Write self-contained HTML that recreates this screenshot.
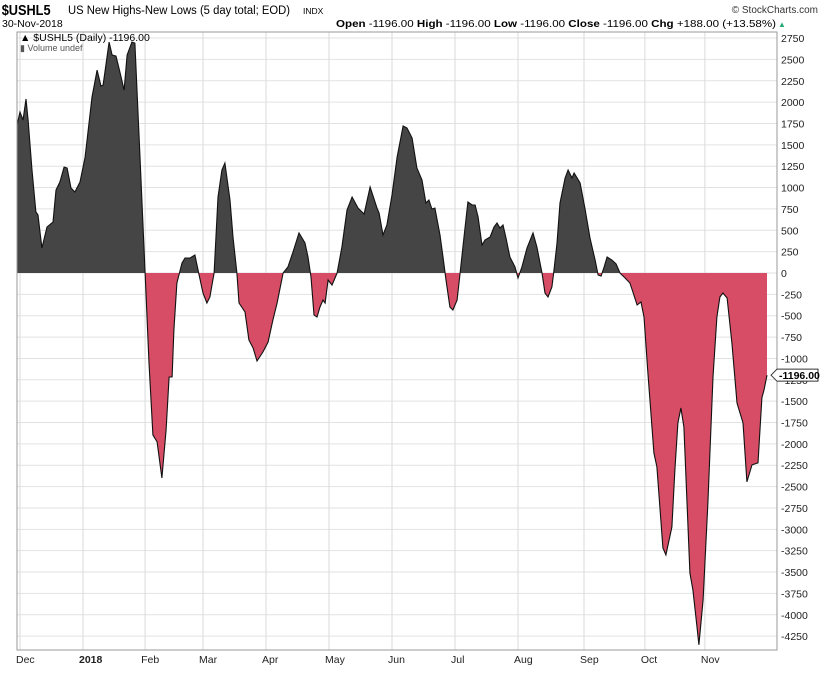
<!DOCTYPE html>
<html><head><meta charset="utf-8"><style>
body{margin:0;background:#fff;width:820px;height:668px;overflow:hidden;font-family:"Liberation Sans",sans-serif}
svg text{font-family:"Liberation Sans",sans-serif}
</style></head><body>
<svg id="chart" width="820" height="668" xmlns="http://www.w3.org/2000/svg">
<g>
<text x="2" y="15" font-size="15" font-weight="bold" transform="scale(0.85,1)">$USHL5</text>
<text x="68" y="14" font-size="11.5" textLength="222" lengthAdjust="spacingAndGlyphs">US New Highs-New Lows (5 day total; EOD)</text>
<text x="303" y="14" font-size="8.5">INDX</text>
<text x="818" y="13" font-size="10" text-anchor="end" fill="#333">© StockCharts.com</text>
<text x="2" y="27" font-size="10.5">30-Nov-2018</text>
<text x="776" y="27" font-size="10.5" text-anchor="end" textLength="440" lengthAdjust="spacingAndGlyphs"><tspan font-weight="bold">Open</tspan> -1196.00 <tspan font-weight="bold">High</tspan> -1196.00 <tspan font-weight="bold">Low</tspan> -1196.00 <tspan font-weight="bold">Close</tspan> -1196.00 <tspan font-weight="bold">Chg</tspan> +188.00 (+13.58%)</text>
<text x="778" y="27" font-size="8" fill="#2a7">▲</text>
</g>
<g id="grid"></g>
<g id="series"></g>
<rect x="17" y="32" width="760" height="618" fill="none" stroke="#999" stroke-width="1"/>
<g id="axes"></g>
<text x="20" y="41" font-size="10.5">▲ $USHL5 (Daily) -1196.00</text>
<text x="20" y="51" font-size="9" fill="#555">▮ Volume undef</text>
</svg>
<script>
const days=[0,1,2,3,3.7,5,6.3,7,8.3,10,12,13,14.3,15.7,16.7,18,19.3,21,22.7,25,26.7,28,28.7,30.7,31.7,33,34.3,35.7,36.7,38.3,39.3,41,42.7,44,45.3,46.7,48.3,49.7,50.7,51.7,52.3,53.3,55,56,57.7,59.3,60.7,62,63.3,64.3,65.7,67,68.3,69.3,71,72,73.3,74,76,77.3,78.7,80,82,83.7,85.3,86.7,88.7,90.3,92,94,96,97,98,99,100,101,102,102.7,103.7,105,106,106.7,108.3,110,111.7,113.7,115.7,117.7,120,120.7,122,123.3,125,126.7,128.7,130,131.7,133.3,135,136.3,137.3,138.3,139.3,141,142,143,144.3,145.3,146.7,147.7,149,150.3,151.7,152.7,153.7,155,156,157.7,159,160,161,162,163,164.3,166,167,168.3,170,172,173.3,175,176,177,178.3,179,180,181,182.7,183.7,185,185.7,187.7,189.3,191,192.7,193.7,194.7,195.7,196.7,198.3,199.7,201,202.7,204.3,205.3,206.7,208,209,210.3,212.3,213.3,215.3,216.3,218.3,219.3,220.3,221.3,222.3,224.3,225.3,226.7,227.3,228.7,230.3,232,233.3,234.3,235.3,236.7,238.3,240,242,243.3,245,247,248.3,249,250];
const values=[1732,1884,1790,2036,1790,1205,714,679,293,538,597,971,1065,1240,1229,995,948,1065,1357,2059,2375,2188,2200,2703,2551,2539,2352,2141,2551,2703,2691,1357,0,-1053,-1895,-1977,-2399,-1837,-1217,-1217,-667,-117,117,175,175,211,-23,-234,-351,-281,0,889,1205,1287,854,421,0,-351,-456,-784,-878,-1030,-924,-807,-550,-351,0,70,246,468,351,187,-47,-491,-515,-398,-316,-351,-82,-140,-59,0,304,737,889,760,690,1006,760,702,445,562,913,1357,1720,1697,1580,1229,1088,819,854,749,760,445,187,-82,-398,-433,-316,0,421,831,796,796,655,328,386,421,538,585,527,562,410,187,70,-59,70,293,468,304,0,-234,-281,-164,35,351,819,1112,1205,1112,1170,1053,760,410,152,-23,-35,70,187,152,105,0,-59,-117,-222,-374,-339,-515,-1170,-2106,-2270,-3218,-3299,-2972,-2305,-1755,-1580,-1802,-3510,-3709,-4154,-4352,-3826,-2691,-1217,-515,-281,-234,-293,-819,-1521,-1755,-2445,-2246,-2223,-1462,-1369,-1196];
const monthLabels=["Dec","2018","Feb","Mar","Apr","May","Jun","Jul","Aug","Sep","Oct","Nov"];
const monthDays=[1,22,42.7,62,83,104,125,146,167,189,209.3,229.3];
const yTicks=[2750,2500,2250,2000,1750,1500,1250,1000,750,500,250,0,-250,-500,-750,-1000,-1250,-1500,-1750,-2000,-2250,-2500,-2750,-3000,-3250,-3500,-3750,-4000,-4250];
const lastValue=-1196;

const NS="http://www.w3.org/2000/svg";
const X=d=>17+d*3;
const Y=v=>273-v/250*21.36;
function mk(tag,attrs,parent){const e=document.createElementNS(NS,tag);for(const k in attrs)e.setAttribute(k,attrs[k]);parent.appendChild(e);return e;}
const grid=document.getElementById('grid'),axes=document.getElementById('axes'),ser=document.getElementById('series');
yTicks.forEach(t=>{
  const l=mk('line',{x1:17,x2:777,y1:Y(t),y2:Y(t),stroke:'#e2e2e2','stroke-width':1},grid);
  
  
  const tx=mk('text',{x:781,y:Y(t)+4,'font-size':10.5,fill:'#222'},axes);
  tx.textContent=t;
  
  
});
monthDays.forEach((d,i)=>{
  const l=mk('line',{x1:X(d),x2:X(d),y1:32,y2:650,stroke:'#dadada','stroke-width':1},grid);
  
  
  const tx=mk('text',{x:X(d)-4,y:663,'font-size':10.5,fill:'#222','font-weight':monthLabels[i]==='2018'?'bold':'normal'},axes);
  tx.textContent=monthLabels[i];
  
  
});
let line='';days.forEach((d,i)=>{line+=(i?'L':'M')+X(d).toFixed(1)+','+Y(values[i]).toFixed(1);});
const area=line+'L'+X(days[days.length-1])+','+Y(0)+'L'+X(days[0])+','+Y(0)+'Z';
const defs=mk('defs',{},ser);
const c1=mk('clipPath',{id:'above'},defs);mk('rect',{x:0,y:0,width:820,height:Y(0)},c1);
const c2=mk('clipPath',{id:'below'},defs);mk('rect',{x:0,y:Y(0),width:820,height:668},c2);
const pa=mk('path',{d:area,fill:'#454545','clip-path':'url(#above)'},ser);


const na=mk('path',{d:area,fill:'#d64d65','clip-path':'url(#below)'},ser);


const ln=mk('path',{d:line,fill:'none',stroke:'#111','stroke-width':1.1},ser);


const yl=Y(lastValue);
const tag=mk('path',{d:`M771,${yl}L777,${yl-6}L818,${yl-6}L818,${yl+6}L777,${yl+6}Z`,fill:'#fff',stroke:'#333'},axes);


const tt=mk('text',{x:779,y:yl+4,'font-size':10.5,'font-weight':'bold'},axes);
tt.textContent=lastValue.toFixed(2);


</script>
</body></html>
